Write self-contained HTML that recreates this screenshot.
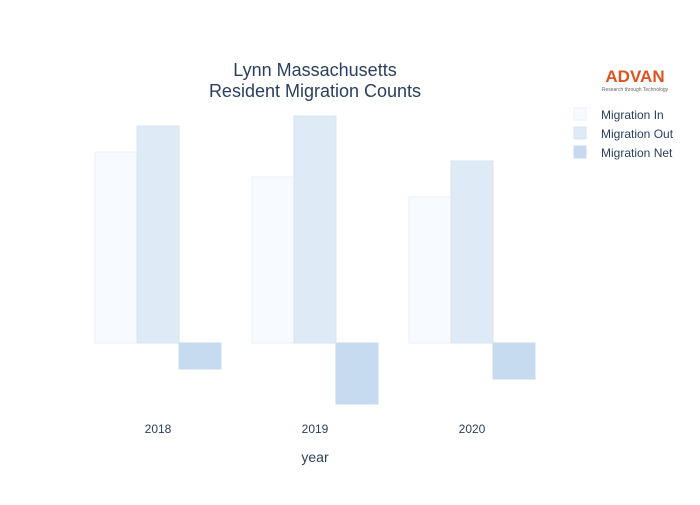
<!DOCTYPE html>
<html><head><meta charset="utf-8"><style>
body{margin:0;background:#fff;font-family:"Liberation Sans",sans-serif}
svg text{font-family:"Liberation Sans",sans-serif;fill:#2a3f5f}
</style></head><body>
<svg width="700" height="500">
<text x="315" y="76" text-anchor="middle" font-size="18">Lynn Massachusetts</text>
<text x="315" y="97" text-anchor="middle" font-size="18">Resident Migration Counts</text>
<g id="bars"></g>
<g id="xt"></g>
<text x="315" y="462" text-anchor="middle" font-size="14">year</text>
<g>
<text x="635" y="82" text-anchor="middle" font-size="17" font-weight="bold" style="fill:#e0531f">ADVAN</text>
<text x="635" y="91" text-anchor="middle" font-size="5" style="fill:#666">Research through Technology</text>
</g>
<g id="legend"></g>
</svg>
<script>
const years=["2018","2019","2020"];
const migIn=[1910,1660,1460];
const migOut=[2170,2270,1820];
const migNet=[-260,-610,-360];
const seriesNames=["Migration In","Migration Out","Migration Net"];
const NS="http://www.w3.org/2000/svg";
const fills=["#f7fbff","#deebf7","#c6dbef"];
const strokes=["#e8f0f8","#d4e4f2","#c6dbef"];
const y0=343,k=0.1;
function yv(v){return y0-v*k;}
function xc(i){return 158+i*157;}
const bw=42;
const bars=document.getElementById('bars');
const series=[migIn,migOut,migNet];
series.forEach((s,si)=>{s.forEach((v,i)=>{
 const r=document.createElementNS(NS,'rect');
 const x=xc(i)-1.5*bw+si*bw;
 r.setAttribute('x',x);r.setAttribute('width',bw);
 r.setAttribute('y',Math.min(yv(v),y0));r.setAttribute('height',Math.abs(yv(v)-y0));
 r.setAttribute('fill',fills[si]);r.setAttribute('stroke',strokes[si]);r.setAttribute('stroke-width','1');
 
 
 bars.appendChild(r);
});});
const xt=document.getElementById('xt');
years.forEach((y,i)=>{const t=document.createElementNS(NS,'text');
 t.setAttribute('x',xc(i));t.setAttribute('y',433);t.setAttribute('text-anchor','middle');t.setAttribute('font-size','12');
 t.textContent=y;
 
 
 xt.appendChild(t);});
const lg=document.getElementById('legend');
seriesNames.forEach((n,i)=>{const g=document.createElementNS(NS,'g');
 
 
 const r=document.createElementNS(NS,'rect');r.setAttribute('x',574);r.setAttribute('y',108+i*19);r.setAttribute('width',12);r.setAttribute('height',12);r.setAttribute('fill',fills[i]);r.setAttribute('stroke',strokes[i]);
 const t=document.createElementNS(NS,'text');t.setAttribute('x',601);t.setAttribute('y',119+i*19);t.setAttribute('font-size','12');t.textContent=n;
 g.appendChild(r);g.appendChild(t);lg.appendChild(g);});
</script>
</body></html>
